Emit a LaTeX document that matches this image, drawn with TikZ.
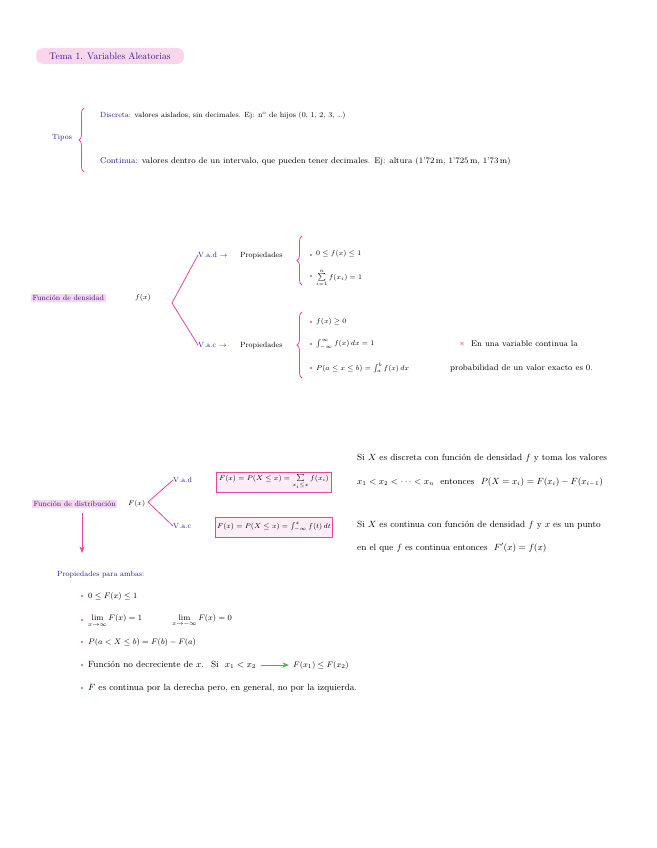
\documentclass[tikz,border=0pt]{standalone}
\usepackage{amsmath}
\usepackage{amssymb}
\usetikzlibrary{decorations.pathreplacing,arrows.meta}
\definecolor{nbnavy}{RGB}{35,30,140}
\definecolor{nbpink}{RGB}{232,70,160}
\definecolor{nbhigh}{RGB}{250,214,236}
\definecolor{nbgreen}{RGB}{70,185,70}
\definecolor{nbred}{RGB}{235,60,70}

\begin{document}
\begin{tikzpicture}[x=1pt, y=-1pt,
    txt/.style={anchor=west, inner sep=0pt, font=\fontsize{7.5}{8}\selectfont},
    big/.style={txt, font=\fontsize{8.3}{9}\selectfont},
    wide/.style={txt, font=\fontsize{9}{10}\selectfont},
    head/.style={txt, text=nbnavy},
    hilite/.style={head, fill=nbhigh, inner sep=1.5pt},
    formbox/.style={rectangle, draw=nbpink, thick, fill=nbhigh!45,
                    minimum width=115, minimum height=20, inner sep=2pt,
                    font=\fontsize{7}{8}\selectfont},
    bul/.style={circle, fill=nbpink, inner sep=0pt, minimum size=2.2pt},
    branch/.style={nbpink, thick},
    curly/.style={nbpink, thick, decorate, decoration={brace, amplitude=5pt}},
    arrow/.style={->, thick, >={Stealth}}
]
\useasboundingbox (0,0) rectangle (656,848);

% Titulo
\node[hilite, anchor=center, rounded corners=7pt, minimum width=148,
      minimum height=16, font=\fontsize{9.5}{10}\selectfont] (title) at (110,56)
      {Tema 1. Variables Aleatorias};

% Tipos
\node[head] (tipos) at (52,138) {Tipos};
\draw[curly] (84,172) -- (84,108);
\node[txt] (discreta) at (100,116) {\textcolor{nbnavy}{Discreta:} valores aislados, sin decimales. Ej: n\textsuperscript{o} de hijos (0, 1, 2, 3, \ldots)};
\node[big] (continua) at (100,161) {\textcolor{nbnavy}{Continua:} valores dentro de un intervalo, que pueden tener decimales. Ej: altura (1'72\,m, 1'725\,m, 1'73\,m)};

% Funcion de densidad
\node[hilite] (dens) at (31,298) {Función de densidad};
\node[txt] (fx) at (135,298) {$f(x)$};
\coordinate (densv) at (172,303);
\node[head] (vad) at (198,255) {V.a.d $\rightarrow$};
\node[head] (vac) at (198,345) {V.a.c $\rightarrow$};
\draw[branch] (vad.west) -- (densv) -- (vac.west);

\node[txt] (propd) at (240,256) {Propiedades};
\draw[curly] (302,285) -- (302,236);
\node[bul] (bd1) at (311,255) {};
\node[txt] (d1) at (316,254) {$0 \le f(x) \le 1$};
\node[bul] (bd2) at (311,276) {};
\node[txt] (d2) at (316,278) {$\sum\limits_{i=1}^{n} f(x_i) = 1$};

\node[txt] (propc) at (240,346) {Propiedades};
\draw[curly] (302,378) -- (302,312);
\node[bul] (bc1) at (311,322) {};
\node[txt] (c1) at (316,322) {$f(x) \ge 0$};
\node[bul] (bc2) at (311,344) {};
\node[txt] (c2) at (316,344) {$\int_{-\infty}^{\infty} f(x)\,dx = 1$};
\node[bul] (bc3) at (311,368) {};
\node[txt] (c3) at (316,368) {$P(a \le x \le b) = \int_{a}^{b} f(x)\,dx$};

\node[text=nbred, inner sep=0pt] (star) at (462,344) {$\ast$};
\node[big] (nota1) at (471,344) {En una variable continua la};
\node[big] (nota2) at (450,368) {probabilidad de un valor exacto es 0.};

% Funcion de distribucion
\node[hilite] (dist) at (32,504) {Función de distribución};
\node[txt] (Fx) at (128,504) {$F(x)$};
\coordinate (distv) at (148,502);
\node[head] (vad2) at (173,480) {V.a.d};
\node[head] (vac2) at (173,526) {V.a.c};
\draw[branch] (vad2.west) -- (distv) -- (vac2.west);

\node[formbox] (fd) at (274,482) {$F(x) = P(X \le x) = \sum\limits_{x_i \le x} f(x_i)$};
\node[formbox] (fc) at (274,527) {$F(x) = P(X \le x) = \int_{-\infty}^{x} f(t)\,dt$};

\node[wide] (si1) at (357,458) {Si $X$ es discreta con función de densidad $f$ y toma los valores};
\node[wide] (si2) at (357,482) {$x_1 < x_2 < \dots < x_n$ \ entonces \ $P(X = x_i) = F(x_i) - F(x_{i-1})$};
\node[wide] (si3) at (357,525) {Si $X$ es continua con función de densidad $f$ y $x$ es un punto};
\node[wide] (si4) at (357,548) {en el que $f$ es continua entonces \ $F'(x) = f(x)$};

% Propiedades para ambas
\coordinate (arrend) at (82,553);
\draw[branch, arrow] (82,513) -- (arrend);
\node[head] (ambas) at (57,575) {Propiedades para ambas:};
\node[bul] (b1) at (82,596) {};
\node[big] (p1) at (88,596) {$0 \le F(x) \le 1$};
\node[bul] (b2) at (82,620) {};
\node[big] (p2) at (88,621) {$\lim\limits_{x\to\infty} F(x) = 1$};
\node[big] (p2b) at (172,621) {$\lim\limits_{x\to-\infty} F(x) = 0$};
\node[bul] (b3) at (82,642) {};
\node[big] (p3) at (88,642) {$P(a < X \le b) = F(b) - F(a)$};
\node[bul] (b4) at (82,665) {};
\node[wide] (p4) at (88,665) {Función no decreciente de $x$. \ Si \ $x_1 < x_2$};
\node[big] (p4r) at (293,665) {$F(x_1) \le F(x_2)$};
\draw[nbgreen, arrow] ([xshift=5pt]p4.east) -- ([xshift=-4pt]p4r.west);
\node[bul] (b5) at (82,688) {};
\node[wide] (p5) at (88,688) {$F$ es continua por la derecha pero, en general, no por la izquierda.};
\end{tikzpicture}
\end{document}
